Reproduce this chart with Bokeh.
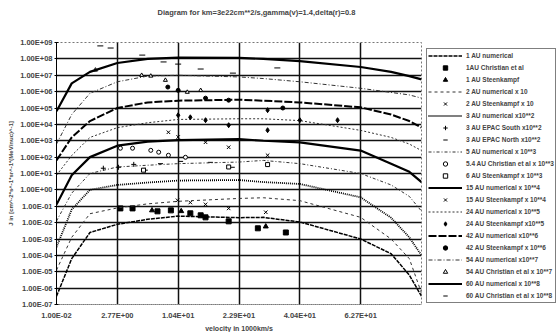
from bokeh.plotting import figure
from bokeh.models import FixedTicker, Legend, LegendItem, CustomJSTickFormatter, Title
from bokeh.embed import file_html
from bokeh.resources import INLINE

# ---------------- data ----------------
title_text = "Diagram for km=3e22cm**2/s,gamma(v)=1.4,delta(r)=0.8"
x_title = "velocity in 1000km/s"
y_title = "J in [cm^-2*s^-1*sr^-1*(MeV/nuc)^-1]"

# category-axis positions and labels
x_tick_pos = [0, 1, 2, 3, 4, 5]
x_tick_labels = ["1.00E-02", "2.77E+00", "1.04E+01", "2.29E+01", "4.04E+01", "6.27E+01"]
y_ticks = [1e-7, 1e-6, 1e-5, 1e-4, 1e-3, 1e-2, 1e-1, 1e0, 1e1, 1e2, 1e3, 1e4, 1e5, 1e6, 1e7, 1e8, 1e9]
y_tick_labels = ["1.00E-07", "1.00E-06", "1.00E-05", "1.00E-04", "1.00E-03", "1.00E-02",
                 "1.00E-01", "1.00E+00", "1.00E+01", "1.00E+02", "1.00E+03", "1.00E+04",
                 "1.00E+05", "1.00E+06", "1.00E+07", "1.00E+08", "1.00E+09"]

# numerical curves (position on the category axis)
curve_pos = [0, 0.25, 0.55, 1, 1.5, 2, 3, 3.4, 4, 5, 5.5, 5.8, 6]
num_1au  = [3.2e-7, 6.3e-5, 2.5e-3, 7.9e-3, 1.6e-2, 2.5e-2, 2.0e-2, 2.1e-2, 1.1e-2, 1.0e-3, 1.26e-4, 6.3e-6, 3.2e-7]
num_2au  = [1.26e-5, 1.26e-3, 3.5e-2, 7.9e-2, 0.14, 0.2, 0.3, 0.33, 0.22, 2.1e-2, 1.0e-3, 6.3e-5, 5.0e-7]
num_3au  = [3.2e-4, 6.3e-2, 1.0, 2.0, 2.8, 3.7, 4.0, 3.0, 2.3, 0.35, 2.0e-2, 1.26e-3, 1.0e-4]
num_5au  = [1.26e-2, 0.63, 10, 25, 32, 40, 50, 63, 40, 10, 2.0, 0.4, 0.05]
num_15au = [0.126, 7.9, 100, 500, 890, 1.1e3, 1.26e3, 1.0e3, 790, 250, 40, 12.6, 3.0]
num_24au = [7.9, 126, 1.6e3, 6.3e3, 1.26e4, 2.0e4, 2.2e4, 2.2e4, 1.7e4, 4.3e3, 1.6e3, 630, 250]
num_42au = [63, 1.6e3, 1.6e4, 1.0e5, 2.2e5, 2.8e5, 3.2e5, 2.8e5, 2.2e5, 1.1e5, 4.0e4, 1.6e4, 6.3e3]
num_54au = [630, 4.0e4, 7.9e5, 4.0e6, 8.9e6, 1.0e7, 7.9e6, 6.3e6, 4.0e6, 1.6e6, 8.9e5, 6.3e5, 4.0e5]
num_60au = [6.3e4, 3.2e6, 1.6e7, 5.6e7, 1.0e8, 1.2e8, 1.15e8, 1.0e8, 7.2e7, 3.2e7, 1.6e7, 8.9e6, 5.6e6]

# observations
chr1_pos = [1.05, 1.25, 1.66, 1.88, 2.2, 2.37, 2.45, 2.83, 3.31, 3.77]
chr1_val = [0.074, 0.074, 0.049, 0.056, 0.037, 0.028, 0.021, 0.012, 0.0045, 0.0025]
stk1_pos = [1.57, 2.05, 3.44]
stk1_val = [0.056, 0.05, 0.0058]
stk2_pos = [1.99, 2.2, 2.45, 2.83, 3.44]
stk2_val = [0.23, 0.17, 0.13, 0.074, 0.043]
epacs_pos = [0.77, 1.02, 1.27, 1.46]
epacs_val = [21, 24, 36, 16]
epacn_pos = [1.71, 2.04, 2.53, 2.89]
epacn_val = [40, 55, 48, 24]
chr5_pos = [1.05, 1.25, 1.55, 1.68, 1.84, 2.12]
chr5_val = [350, 350, 260, 200, 130, 98]
stk6_pos = [1.43, 2.83, 3.47]
stk6_val = [16, 25, 35]
stk15_pos = [1.84, 2.0, 2.45, 2.83, 3.47]
stk15_val = [3.3e3, 1.7e3, 810, 400, 130]
stk24_pos = [2.0, 2.2, 2.45, 2.83, 3.47, 3.47, 4.0, 4.62]
stk24_val = [3.6e4, 2.7e4, 1.8e4, 8.9e3, 7.4e4, 4.4e3, 1.8e4, 1.8e4]
stk42_pos = [1.83, 2.0, 2.45, 2.83, 3.72]
stk42_val = [1.9e6, 1.2e6, 4.0e5, 3.0e5, 1.0e5]
chr54_pos = [0.64, 1.4, 1.55, 1.79, 2.15, 2.37]
chr54_val = [2.1e7, 1.0e7, 9.0e6, 5.0e6, 9.3e5, 1.2e6]
chr60_pos = [0.72, 0.89, 1.41, 1.76, 2.0, 2.37, 2.9, 3.63]
chr60_val = [6.2e8, 4.6e8, 1.7e8, 6.5e7, 4.8e7, 2.4e7, 1.35e7, 2.8e7]

# ---------------- figure ----------------
FONT = "Liberation Sans"
p = figure(frame_width=365, frame_height=262, x_range=(0, 6), y_range=(1e-7, 1e9), y_axis_type="log",
           output_backend="svg", toolbar_location=None, title=None,
           min_border_left=56, min_border_right=0, min_border_top=42, min_border_bottom=28)
p.background_fill_color = "white"
p.border_fill_color = "white"
p.outline_line_color = "#777777"
p.outline_line_dash = "2 2"

# spacer title (closest to the frame), then the real title above it
p.add_layout(Title(text=" ", text_font=FONT, text_font_size="7.5px", standoff=14), "above")
p.add_layout(Title(text=title_text, align="left", offset=101, text_font=FONT,
                   text_font_size="7.5px", text_font_style="bold", standoff=2), "above")

# axes
xa = p.xaxis[0]
xa.ticker = FixedTicker(ticks=x_tick_pos)
xa.major_label_overrides = {k: v for k, v in zip(x_tick_pos, x_tick_labels)}
xa.axis_line_color = "#888888"
xa.axis_line_dash = "2 2"
xa.major_tick_in = 0
xa.major_tick_out = 0
xa.minor_tick_line_color = None
xa.major_label_standoff = 6
xa.major_label_text_font = FONT
xa.major_label_text_font_size = "7.5px"
xa.major_label_text_font_style = "bold"
xa.axis_label = x_title
xa.axis_label_standoff = 2
xa.axis_label_text_font = FONT
xa.axis_label_text_font_size = "7px"
xa.axis_label_text_font_style = "bold"

ya = p.yaxis[0]
ya.ticker = FixedTicker(ticks=y_ticks)
ya.formatter = CustomJSTickFormatter(args=dict(lbls=y_tick_labels, tvals=y_ticks), code="""
const l = Math.log10(tick); let k = 0, d = 1e9;
for (let i = 0; i < tvals.length; i++) { const e = Math.abs(Math.log10(tvals[i]) - l); if (e < d) { d = e; k = i; } }
return lbls[k];
""")
ya.axis_line_color = "black"
ya.major_tick_in = 2
ya.major_tick_out = 2
ya.minor_tick_line_color = None
ya.major_label_standoff = 2
ya.major_label_text_font = FONT
ya.major_label_text_font_size = "7.5px"
ya.major_label_text_font_style = "bold"
ya.axis_label = y_title
ya.axis_label_standoff = 3
ya.axis_label_text_font = FONT
ya.axis_label_text_font_size = "6px"
ya.axis_label_text_font_style = "bold"

p.xgrid.ticker = FixedTicker(ticks=x_tick_pos[1:])
p.ygrid.ticker = FixedTicker(ticks=y_ticks[1:-1])
p.xgrid.grid_line_color = "#111111"
p.ygrid.grid_line_color = "#111111"
p.xgrid.grid_line_width = 1.5
p.ygrid.grid_line_width = 1.5

# ---------------- renderers ----------------
items = []

def line(label, vals, dash, width, color="black"):
    r = p.line(curve_pos, vals, line_color=color, line_width=width, line_dash=dash)
    items.append(LegendItem(label=label, renderers=[r]))

def pts(label, xs, ys, marker, size, fill=True):
    r = p.scatter(xs, ys, marker=marker, size=size, line_color="black", line_width=1,
                  fill_color="black" if fill else "white")
    items.append(LegendItem(label=label, renderers=[r]))

line("1 AU numerical", num_1au, "4 1", 1.5)
pts("1AU Christian et al", chr1_pos, chr1_val, "square", 5)
pts("1 AU Steenkampf", stk1_pos, stk1_val, "triangle", 5)
line("2 AU numerical x 10", num_2au, "3 3", 1.0, "#333333")
pts("2 AU Steenkampf x 10", stk2_pos, stk2_val, "x", 5)
line("3 AU numerical x10**2", num_3au, "1 1", 1.8)
pts("3 AU EPAC South x10**2", epacs_pos, epacs_val, "cross", 5)
pts("3 AU EPAC North x10**2", epacn_pos, epacn_val, "dash", 5)
line("5 AU numerical x 10**3", num_5au, "3 2 1 2", 1.0, "#333333")
pts("5.4 AU Christian et al x 10**3", chr5_pos, chr5_val, "circle", 4, fill=False)
pts("6 AU Steenkampf x 10**3", stk6_pos, stk6_val, "square", 4, fill=False)
line("15 AU numerical x 10**4", num_15au, "solid", 2.2)
pts("15 AU Steenkampf x 10**4", stk15_pos, stk15_val, "x", 5)
line("24 AU numerical x 10**5", num_24au, "2 2", 1.0, "#333333")
pts("24 AU Steenkampf x10**5", stk24_pos, stk24_val, "diamond", 5)
line("42 AU numerical x10**6", num_42au, "8 2", 2.0)
pts("42 AU Steenkampf x 10**6", stk42_pos, stk42_val, "circle", 4)
line("54 AU numerical x10**7", num_54au, "4 2 1 2", 1.0, "#333333")
pts("54 AU Christian et al x 10**7", chr54_pos, chr54_val, "triangle", 4, fill=False)
line("60 AU numerical x 10**8", num_60au, "solid", 2.2)
pts("60 AU Christian et al x 10**8", chr60_pos, chr60_val, "dash", 6)

legend = Legend(items=items, location=(5, 1))
legend.label_text_font = FONT
legend.label_text_font_size = "6.5px"
legend.label_text_font_style = "bold"
legend.glyph_width = 34
legend.glyph_height = 11
legend.label_height = 11
legend.spacing = 1
legend.padding = 1
legend.margin = 4
legend.label_standoff = 4
legend.border_line_color = "black"
legend.border_line_width = 1
legend.background_fill_color = "white"
legend.background_fill_alpha = 1
p.add_layout(legend, "right")

open("out.html", "w").write(file_html(p, INLINE))
